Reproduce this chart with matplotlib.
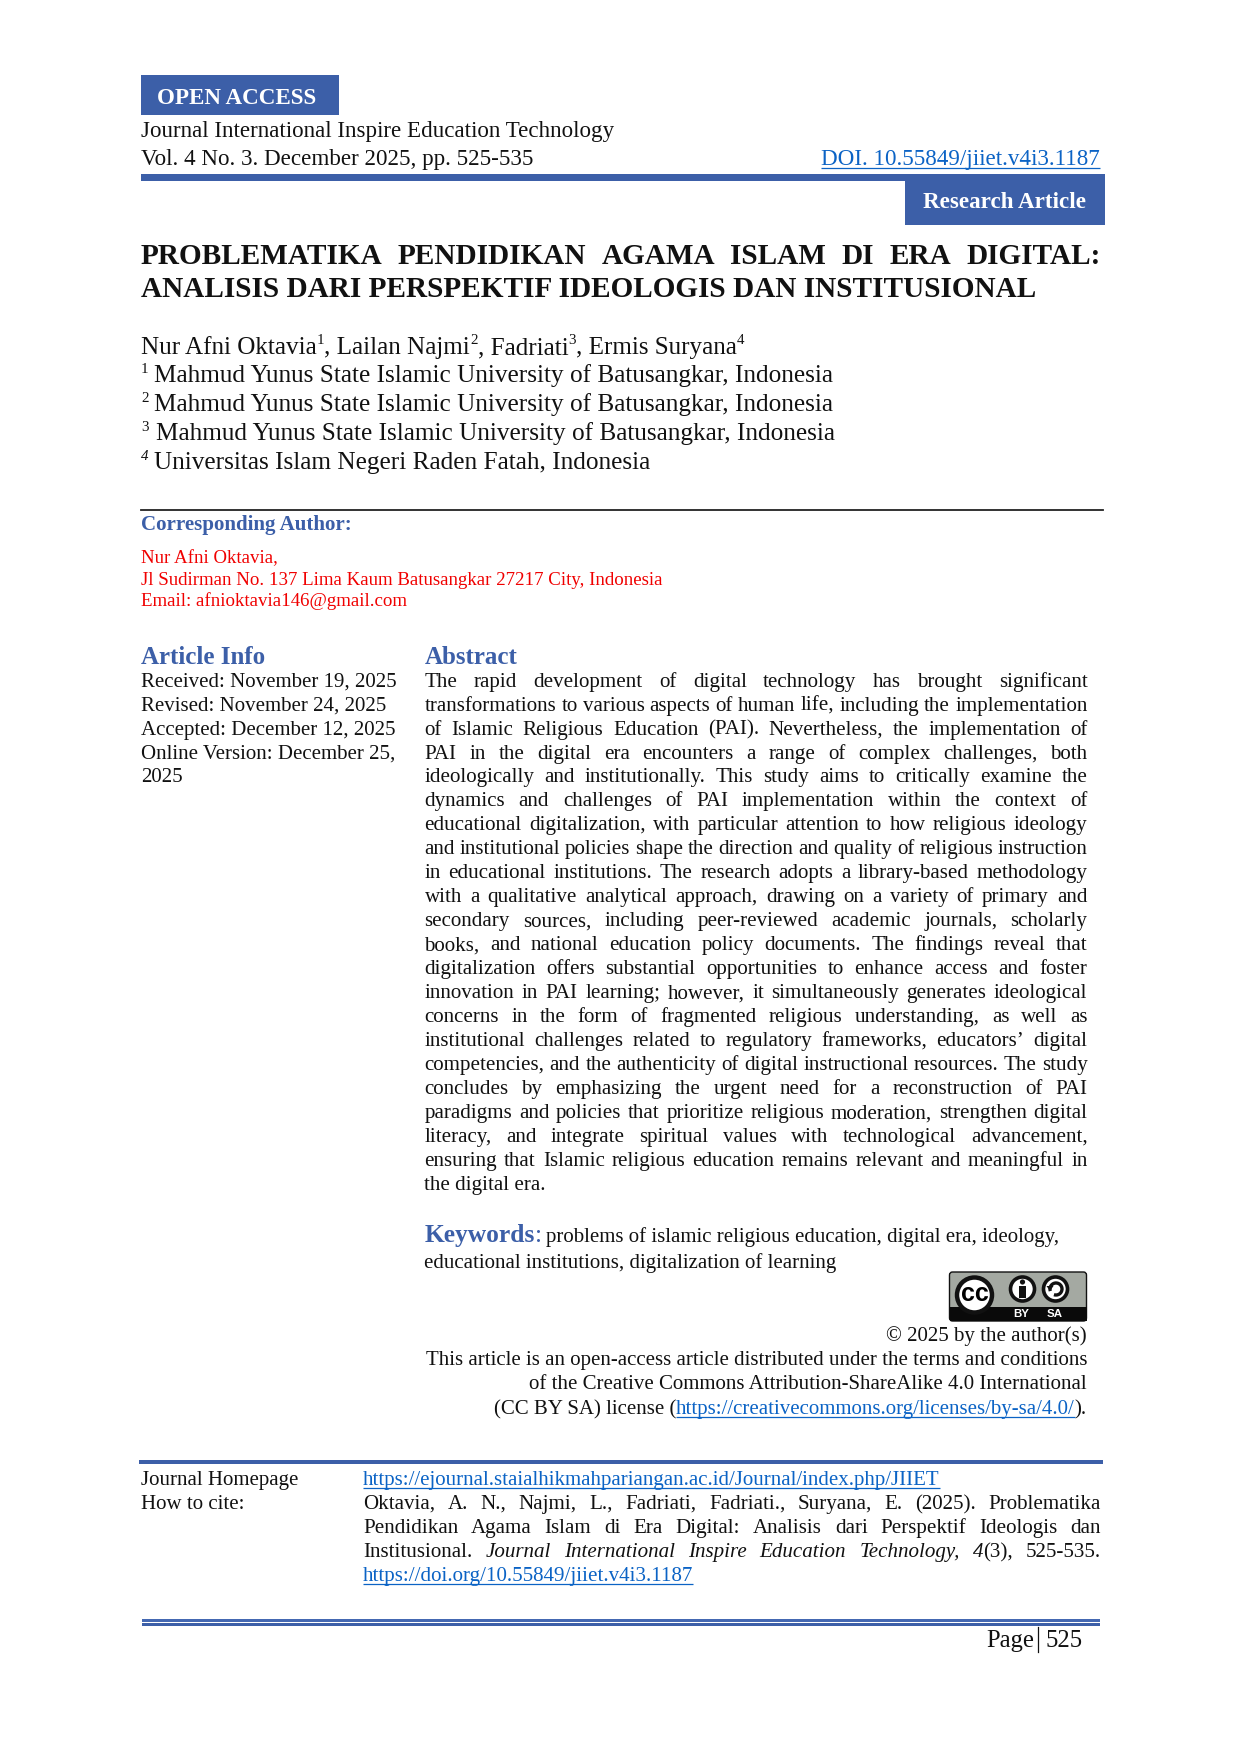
import matplotlib
matplotlib.use('Agg')
import matplotlib.pyplot as plt
from matplotlib.patches import Rectangle, Circle, FancyBboxPatch, Arc, Polygon
from matplotlib.font_manager import FontProperties

plt.rcParams['font.family'] = ['Liberation Serif', 'DejaVu Serif']

BLUE = '#3C5FA8'
LINK = '#0B63C5'
RED = '#F00000'
INK = '#111111'

title_lines = ['PROBLEMATIKA PENDIDIKAN AGAMA ISLAM DI ERA DIGITAL:',
               'ANALISIS DARI PERSPEKTIF IDEOLOGIS DAN INSTITUSIONAL']
affiliations = [('1', 'Mahmud Yunus State Islamic University of Batusangkar, Indonesia'),
                ('2', 'Mahmud Yunus State Islamic University of Batusangkar, Indonesia'),
                ('3', 'Mahmud Yunus State Islamic University of Batusangkar, Indonesia'),
                ('4', 'Universitas Islam Negeri Raden Fatah, Indonesia')]
correspondence = ['Nur Afni Oktavia,',
                  'Jl Sudirman No. 137 Lima Kaum Batusangkar 27217 City, Indonesia',
                  'Email: afnioktavia146@gmail.com']
article_info = ['Received: November 19, 2025',
                'Revised: November 24, 2025',
                'Accepted: December 12, 2025',
                'Online Version: December 25,',
                '2025']
abstract_lines = [
    'The rapid development of digital technology has brought significant',
    'transformations to various aspects of human life, including the implementation',
    'of Islamic Religious Education (PAI). Nevertheless, the implementation of',
    'PAI in the digital era encounters a range of complex challenges, both',
    'ideologically and institutionally. This study aims to critically examine the',
    'dynamics and challenges of PAI implementation within the context of',
    'educational digitalization, with particular attention to how religious ideology',
    'and institutional policies shape the direction and quality of religious instruction',
    'in educational institutions. The research adopts a library-based methodology',
    'with a qualitative analytical approach, drawing on a variety of primary and',
    'secondary sources, including peer-reviewed academic journals, scholarly',
    'books, and national education policy documents. The findings reveal that',
    'digitalization offers substantial opportunities to enhance access and foster',
    'innovation in PAI learning; however, it simultaneously generates ideological',
    'concerns in the form of fragmented religious understanding, as well as',
    'institutional challenges related to regulatory frameworks, educators\u2019 digital',
    'competencies, and the authenticity of digital instructional resources. The study',
    'concludes by emphasizing the urgent need for a reconstruction of PAI',
    'paradigms and policies that prioritize religious moderation, strengthen digital',
    'literacy, and integrate spiritual values with technological advancement,',
    'ensuring that Islamic religious education remains relevant and meaningful in',
    'the digital era.']
license_lines = ['\u00a9 2025 by the author(s)',
                 'This article is an open-access article distributed under the terms and conditions',
                 'of the Creative Commons Attribution-ShareAlike 4.0 International']
cite_lines = ['Oktavia, A. N., Najmi, L., Fadriati, Fadriati., Suryana, E. (2025). Problematika',
              'Pendidikan Agama Islam di Era Digital: Analisis dari Perspektif Ideologis dan']

fig = plt.figure(figsize=(12.4, 17.54), dpi=100)
ax = fig.add_axes([0, 0, 1, 1])
ax.set_xlim(0, 1240)
ax.set_ylim(1754, 0)
ax.axis('off')
fig.canvas.draw()
renderer = fig.canvas.get_renderer()


def pt(px):
    return px * 72 / 100


def width(s, px, weight='normal', style='normal'):
    fp = FontProperties(family='Liberation Serif', size=pt(px), weight=weight, style=style)
    return renderer.get_text_width_height_descent(s, fp, False)[0]


def put(x, y, s, px=23.0, color=INK, weight='normal', style='normal', underline=False):
    ax.text(x, y, s, fontsize=pt(px), color=color, weight=weight, style=style, va='baseline', ha='left')
    end = x + width(s, px, weight, style)
    if underline:
        ax.plot([x, end], [y + 3, y + 3], color=color, lw=0.9, solid_capstyle='butt')
    return end


def justify(x0, x1, y, s, px=23.0, color=INK, weight='normal'):
    words = s.split(' ')
    widths = [width(w, px, weight) for w in words]
    gap = (x1 - x0 - sum(widths)) / (len(words) - 1)
    x = x0
    for w, wd in zip(words, widths):
        ax.text(x, y, w, fontsize=pt(px), color=color, weight=weight, va='baseline', ha='left')
        x += wd + gap


def right(x1, y, s, px=23.0, color=INK, underline=False):
    put(x1 - width(s, px), y, s, px, color, underline=underline)


def box(x0, y0, x1, y1, color, z=1):
    ax.add_patch(Rectangle((x0, y0), x1 - x0, y1 - y0, fc=color, ec='none', zorder=z))


# header
box(141, 75, 339, 115, BLUE)
put(157, 104, 'OPEN ACCESS', 23, 'white', 'bold')
put(141, 137, 'Journal International Inspire Education Technology')
put(141, 165, 'Vol. 4 No. 3. December 2025, pp. 525-535')
right(1100, 165, 'DOI. 10.55849/jiiet.v4i3.1187', color=LINK, underline=True)
box(141, 174, 1105, 181, BLUE)
box(905, 181, 1105, 225, BLUE)
put(923, 208, 'Research Article', 23, 'white', 'bold')

# title and authors
justify(141, 1100.5, 264, title_lines[0], 29.2, INK, 'bold')
put(141, 297, title_lines[1], 29.2, INK, 'bold')

x = put(141, 354, 'Nur Afni Oktavia', 25.1)
x = put(x, 344, '1', 15)
x = put(x, 354, ', Lailan Najmi', 25.1)
x = put(x, 344, '2', 15)
x = put(x, 354, ', Fadriati', 25.1)
x = put(x, 344, '3', 15)
x = put(x, 354, ', Ermis Suryana', 25.1)
put(x, 344, '4', 15)

for i, (num, aff) in enumerate(affiliations):
    y = 382 + i * 29
    put(141, y - 9, num, 15, style='italic' if num == '4' else 'normal')
    put(156 if num == '3' else 154, y, aff, 25.2)

ax.plot([141, 1103], [509.5, 509.5], color='#222222', lw=1.3)
put(141, 530, 'Corresponding Author:', 21, BLUE, 'bold')
for i, line in enumerate(correspondence):
    put(141, 563 + i * 21.7, line, 18.9, RED)

# article info and abstract
put(141, 664, 'Article Info', 25, BLUE, 'bold')
put(425, 664, 'Abstract', 25, BLUE, 'bold')
for i, line in enumerate(article_info):
    put(141, 686.6 + i * 23.97, line, 20.9)
for i, line in enumerate(abstract_lines):
    y = 686.6 + i * 23.97
    if i == len(abstract_lines) - 1:
        put(424.5, y, line, 21)
    else:
        justify(424.5, 1087.5, y, line, 21)

# keywords and licence
x = put(425, 1242, 'Keywords', 25.5, BLUE, 'bold')
put(x, 1242, ':', 25.5, BLUE)
put(546, 1242, 'problems of islamic religious education, digital era, ideology,', 20.85)
put(424.5, 1268, 'educational institutions, digitalization of learning', 20.85)

# cc badge
GREY = '#A4A9A2'
ax.add_patch(FancyBboxPatch((949.5, 1272), 137, 49, boxstyle='round,pad=0,rounding_size=3',
                            fc=GREY, ec='#111111', lw=1.0, zorder=2))
box(949.5, 1307, 1086.5, 1321, '#0A0A0A', 3)
ax.add_patch(Circle((974.5, 1295), 17.5, fc='white', ec='#111111', lw=3.2, zorder=4))
ax.text(974.5, 1294, 'cc', fontsize=pt(25), family='Liberation Sans', weight='bold', ha='center', va='center', zorder=5)
ax.add_patch(Circle((1022.5, 1289), 12, fc='white', ec='#111111', lw=2.6, zorder=4))
ax.add_patch(Circle((1022.5, 1282), 2.6, fc='#111111', ec='none', zorder=5))
box(1019, 1285.5, 1026, 1298, '#111111', 5)
ax.add_patch(Circle((1055.5, 1289), 12, fc='white', ec='#111111', lw=2.6, zorder=4))
ax.add_patch(Arc((1056, 1289), 12, 12, theta1=-200, theta2=110, ec='#111111', lw=2.4, zorder=5))
ax.add_patch(Polygon([[1046.5, 1286], [1053.5, 1286], [1050, 1291]], fc='#111111', ec='none', zorder=5))
ax.text(1021.5, 1314, 'BY', fontsize=pt(11.5), family='Liberation Sans', weight='bold', color='white', ha='center', va='center', zorder=5)
ax.text(1054.5, 1314, 'SA', fontsize=pt(11.5), family='Liberation Sans', weight='bold', color='white', ha='center', va='center', zorder=5)

for i, line in enumerate(license_lines):
    right(1087, 1341 + i * 24.2, line, 20.9)
x = put(493.5, 1414, '(CC BY SA) license (', 20.9)
x = put(x, 1414, 'https://creativecommons.org/licenses/by-sa/4.0/', 20.9, LINK, underline=True)
put(x, 1414, ').', 20.9)

# footer block
box(139, 1460, 1103, 1464, BLUE)
put(141, 1485, 'Journal Homepage', 20.9)
put(363, 1485, 'https://ejournal.staialhikmahpariangan.ac.id/Journal/index.php/JIIET', 20.9, LINK, underline=True)
put(141, 1509, 'How to cite:', 20.9)
justify(363, 1101, 1509, cite_lines[0], 21)
justify(363, 1101, 1533, cite_lines[1], 21)

# this line mixes roman and italic, so the gap has to be worked out by hand
cite_words = [('Institusional.', 'normal'), ('Journal', 'italic'), ('International', 'italic'),
              ('Inspire', 'italic'), ('Education', 'italic'), ('Technology,', 'italic'),
              ('4', 'italic'), ('(3),', 'normal'), ('525-535.', 'normal')]
used = sum(width(w, 21, style=s) for w, s in cite_words)
gap = (1101 - 363 - used) / (len(cite_words) - 2)
x = 363
for w, s in cite_words:
    x = put(x, 1557, w, 21, style=s)
    if w != '4':
        x += gap
put(363, 1581, 'https://doi.org/10.55849/jiiet.v4i3.1187', 21, LINK, underline=True)

box(142, 1619, 1100, 1622, '#4468B2')
box(142, 1623, 1100, 1626, BLUE)
right(1034, 1647, 'Page', 24.6)
ax.plot([1037.5, 1037.5], [1627, 1652], color=INK, lw=0.9)
right(1082.5, 1647, '525', 24.6)

fig.savefig('out.png', dpi=100)
